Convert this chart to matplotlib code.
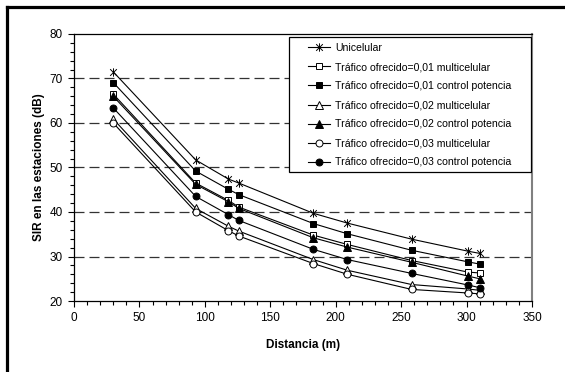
import matplotlib
matplotlib.use("Agg")
import matplotlib.pyplot as plt
from matplotlib.path import Path
from matplotlib.lines import Line2D
from matplotlib.patches import Rectangle
from matplotlib.ticker import MultipleLocator

plt.rcParams['font.family'] = ['Liberation Sans', 'DejaVu Sans']

distancia = [30, 93, 118, 126, 183, 209, 258, 301, 310]
unicelular = [71.5, 51.7, 47.4, 46.5, 39.7, 37.5, 33.9, 31.2, 30.7]
t01_multi = [66.5, 46.5, 42.6, 41.1, 34.8, 32.7, 29.1, 26.5, 26.3]
t01_ctrl = [69.1, 49.2, 45.1, 43.9, 37.4, 35.1, 31.4, 28.8, 28.3]
t02_multi = [60.9, 40.8, 36.8, 35.7, 29.3, 26.9, 23.7, 22.7, 22.4]
t02_ctrl = [66.0, 46.2, 42.3, 40.8, 34.2, 32.1, 28.7, 25.6, 25.0]
t03_multi = [60.0, 40.0, 35.8, 34.6, 28.4, 26.0, 22.6, 21.8, 21.6]
t03_ctrl = [63.4, 43.5, 39.4, 38.1, 31.6, 29.3, 26.2, 23.6, 23.0]

labels = ["Unicelular",
          "Tráfico ofrecido=0,01 multicelular",
          "Tráfico ofrecido=0,01 control potencia",
          "Tráfico ofrecido=0,02 multicelular",
          "Tráfico ofrecido=0,02 control potencia",
          "Tráfico ofrecido=0,03 multicelular",
          "Tráfico ofrecido=0,03 control potencia"]
series = [unicelular, t01_multi, t01_ctrl, t02_multi, t02_ctrl, t03_multi, t03_ctrl]

# asterisk marker: X plus vertical bar
ast = Path([(-1, -1), (1, 1), (-1, 1), (1, -1), (0, -1.25), (0, 1.25)],
           [Path.MOVETO, Path.LINETO, Path.MOVETO, Path.LINETO, Path.MOVETO, Path.LINETO])
styles = [
    dict(marker=ast, mfc='black', ms=6),
    dict(marker='s', mfc='white', ms=5),
    dict(marker='s', mfc='black', ms=5),
    dict(marker='^', mfc='white', ms=5.5),
    dict(marker='^', mfc='black', ms=5.5),
    dict(marker='o', mfc='white', ms=5),
    dict(marker='o', mfc='black', ms=5),
]

fig = plt.figure(figsize=(5.65, 3.72), dpi=100)
ax = fig.add_axes([74/565, 71/372, 458/565, 267/372])

for y, lab, st in zip(series, labels, styles):
    ax.plot(distancia, y, color='black', lw=0.8, mec='black', mew=0.7, label=lab, **st)

ax.set_xlim(0, 350)
ax.set_ylim(20, 80)
ax.xaxis.set_major_locator(MultipleLocator(50))
ax.xaxis.set_minor_locator(MultipleLocator(10))
ax.yaxis.set_major_locator(MultipleLocator(10))
ax.yaxis.set_minor_locator(MultipleLocator(2))
ax.tick_params(which='major', direction='out', length=4, width=0.8, labelsize=8.5, pad=4)
ax.tick_params(which='minor', direction='out', length=3, width=0.8)

for v in [30, 40, 50, 60, 70]:
    ax.axhline(v, color='#333333', lw=0.9, dashes=(8, 4), zorder=0)

ax.spines['left'].set_color('black')
ax.spines['bottom'].set_color('black')
ax.spines['top'].set_color('black')
ax.spines['right'].set_color('#808080')
ax.spines['right'].set_linewidth(1.5)
for s in ['left', 'bottom', 'top']:
    ax.spines[s].set_linewidth(0.9)

ax.set_xlabel("Distancia (m)", fontsize=8.5, fontweight='bold', labelpad=11)
ax.set_ylabel("SIR en las estaciones (dB)", fontsize=8.5, fontweight='bold', labelpad=3)

# legend box
ax.add_patch(Rectangle((215/458, 129/267), 457/458 - 215/458, 264/267 - 129/267,
                       transform=ax.transAxes, facecolor='white', edgecolor='black',
                       lw=0.9, zorder=4))
leg = ax.legend(loc='upper left', bbox_to_anchor=(234/458, 258/267), fontsize=7.6,
                frameon=False, handlelength=2.1, handletextpad=0.45,
                labelspacing=0.86, borderpad=0.0, borderaxespad=0.0)
leg.set_zorder(5)

# outer frame (left and top)
fig.add_artist(Line2D([6.5/565, 6.5/565], [0, 1 - 6.5/372], transform=fig.transFigure,
                      color='black', lw=2.3, solid_capstyle='projecting'))
fig.add_artist(Line2D([6.5/565, 1], [1 - 6.5/372, 1 - 6.5/372], transform=fig.transFigure,
                      color='black', lw=2.3, solid_capstyle='projecting'))

fig.savefig("out.png", dpi=100)
